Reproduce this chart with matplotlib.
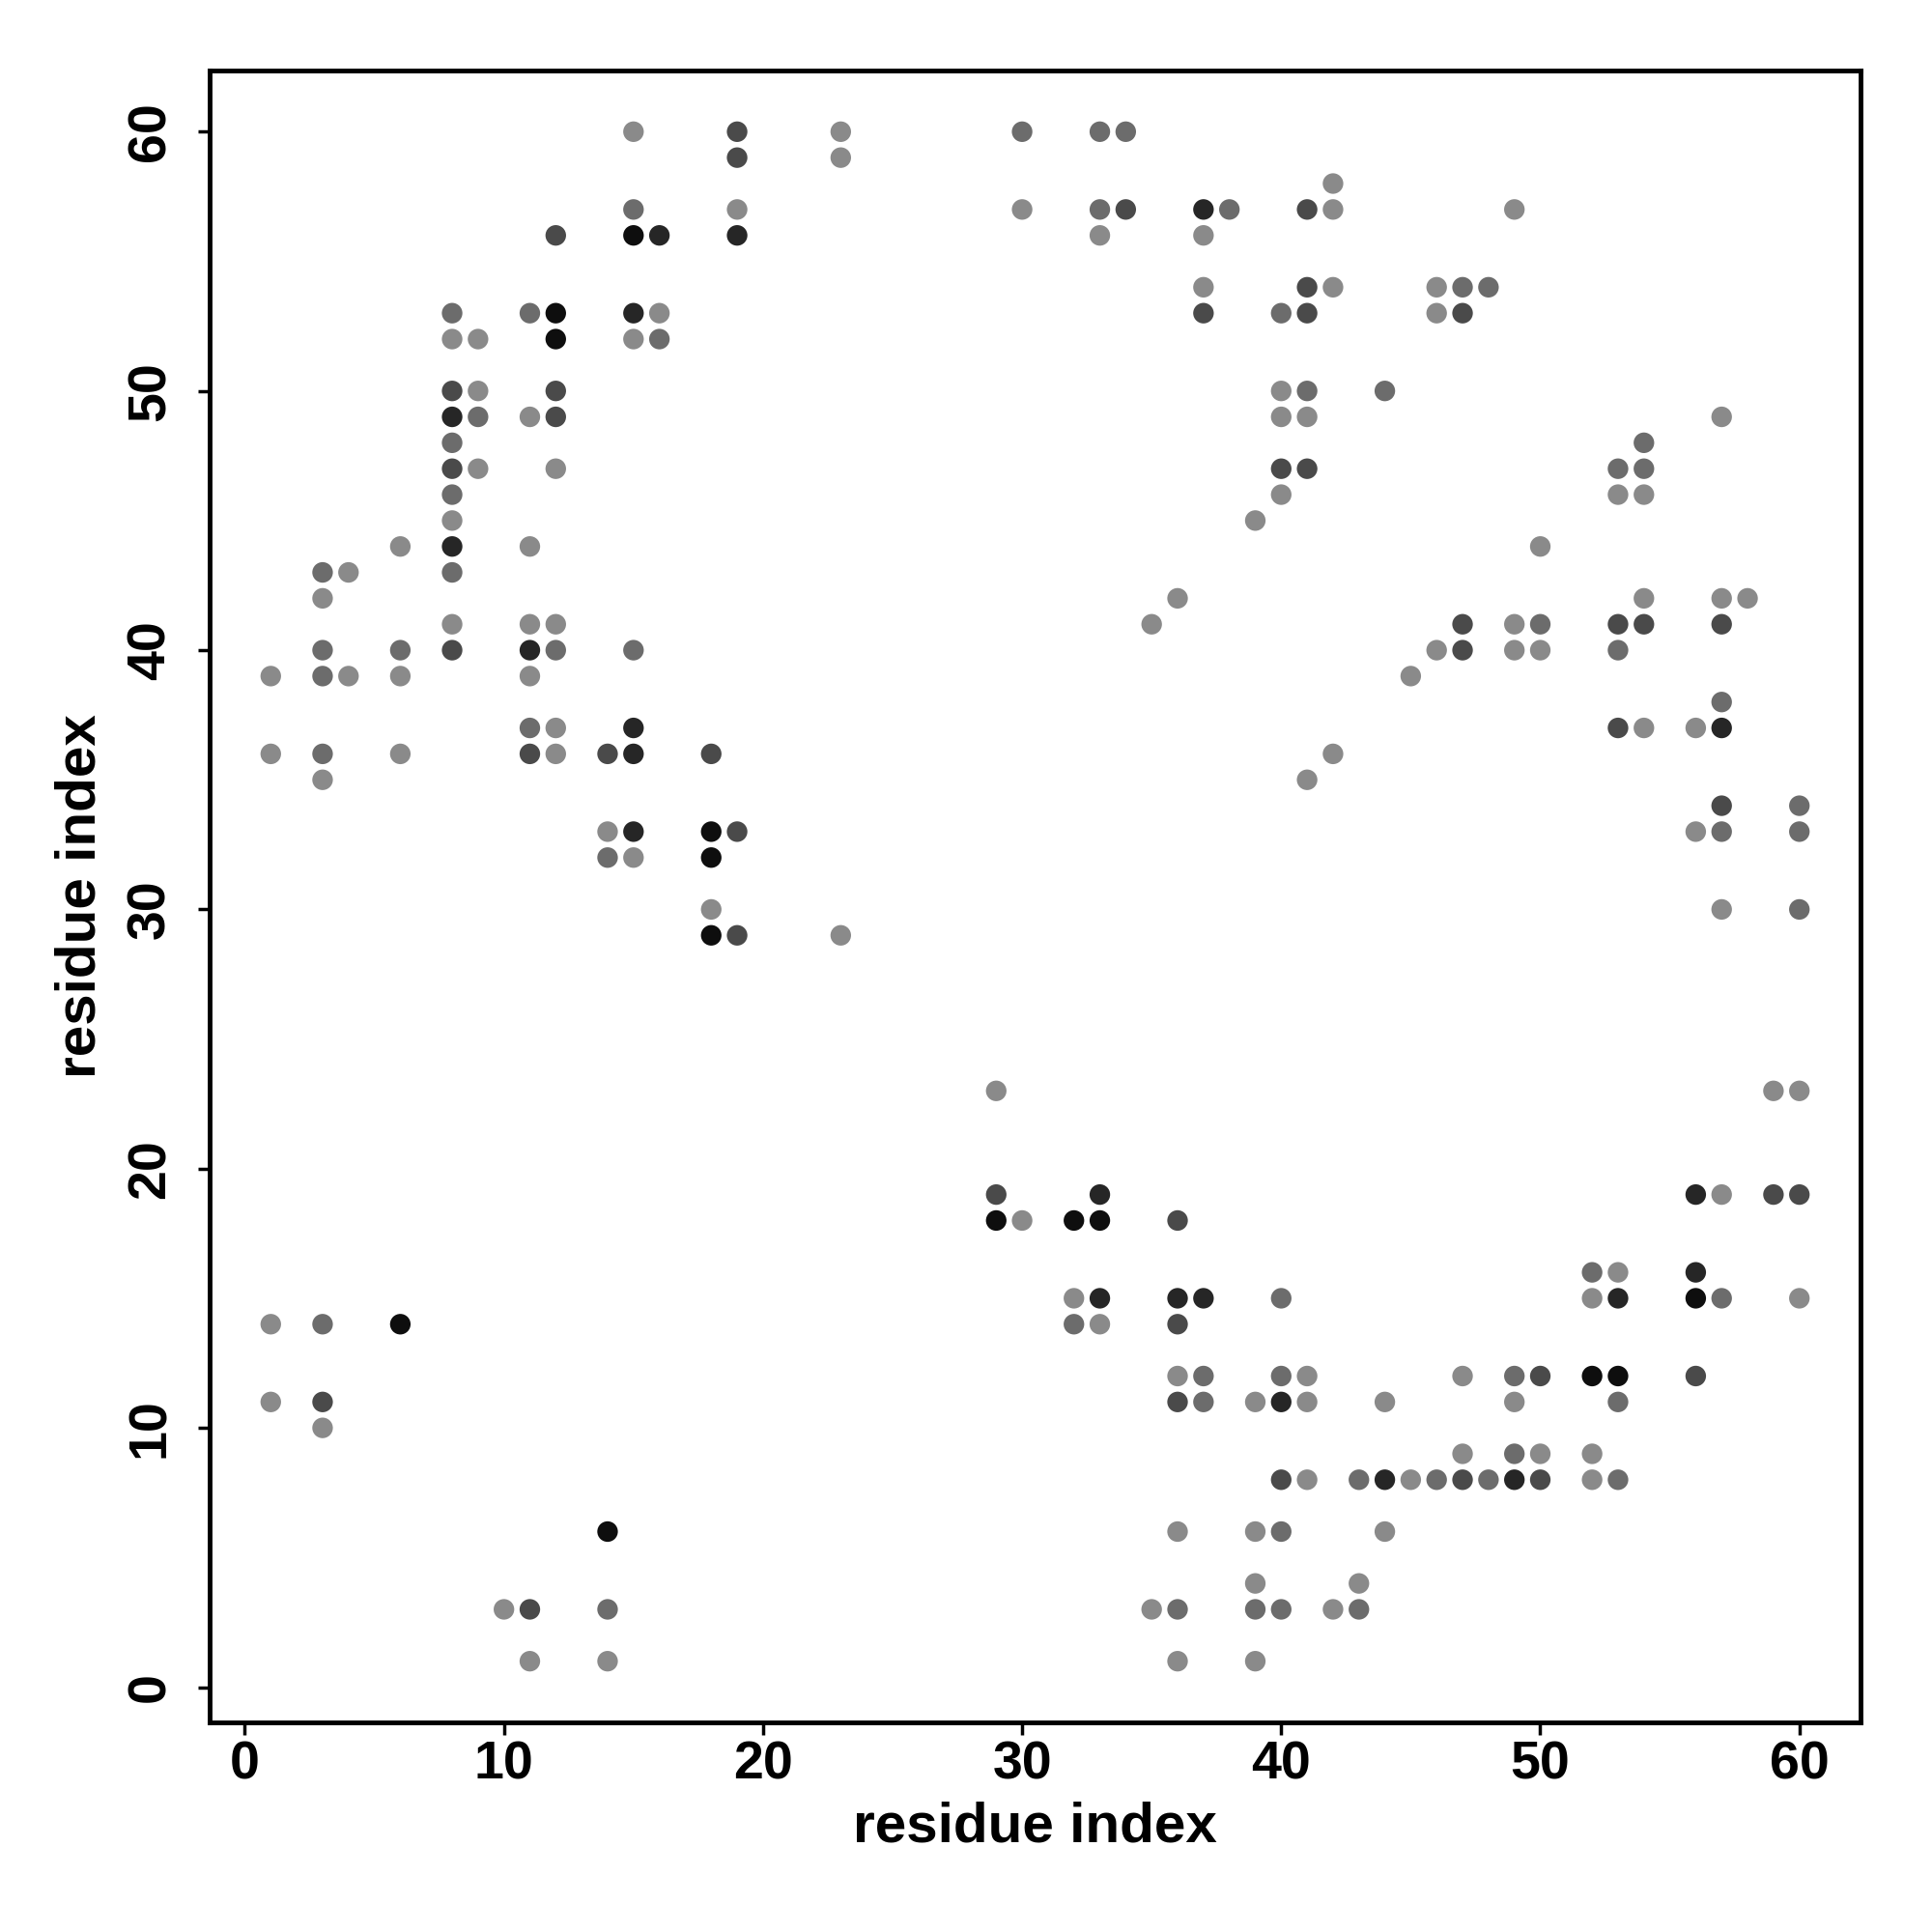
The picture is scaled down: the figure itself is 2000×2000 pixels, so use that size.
import numpy as np
import matplotlib
matplotlib.use('Agg')
import matplotlib.pyplot as plt

plt.rcParams['font.family'] = ['Liberation Sans', 'DejaVu Sans']
plt.rcParams['font.weight'] = 'bold'

# Contact list: residue i, residue j, shade level (1 light .. 5 black).
res_i = [15, 19, 23, 30, 33, 34,
         19, 23,
         42,
         15, 19, 30, 33, 34, 37, 38, 41, 42, 49,
         12, 15, 16, 19, 33, 37,
         37, 41, 42, 46, 47, 48,
         8, 11, 12, 15, 16, 37, 40, 41, 46, 47,
         8, 9, 12, 15, 16,
         8, 9, 12, 40, 41, 44,
         8, 9, 11, 12, 40, 41, 57,
         8, 54,
         8, 9, 12, 40, 41, 53, 54,
         8, 40, 53, 54,
         8, 39,
         6, 8, 11, 50,
         3, 4, 8,
         3, 36, 54, 57, 58,
         8, 11, 12, 35, 47, 49, 50, 53, 54, 57,
         3, 6, 8, 11, 12, 15, 46, 47, 49, 50, 53,
         1, 3, 4, 6, 11, 45,
         57,
         11, 12, 15, 53, 54, 56, 57,
         1, 3, 6, 11, 12, 14, 15, 18, 42,
         3, 41,
         57, 60,
         14, 15, 18, 19, 56, 57, 60,
         14, 15, 18,
         18, 57, 60,
         18, 19, 23,
         29, 59, 60,
         29, 33, 56, 57, 59, 60,
         29, 30, 32, 33, 36,
         52, 53, 56,
         32, 33, 36, 37, 40, 52, 53, 56, 57, 60,
         1, 3, 6, 32, 33, 36,
         36, 37, 40, 41, 47, 49, 50, 52, 53, 56,
         1, 3, 36, 37, 39, 40, 41, 44, 49, 53,
         3,
         47, 49, 50, 52,
         40, 41, 43, 44, 45, 46, 47, 48, 49, 50, 52, 53,
         14, 36, 39, 40, 44,
         39, 43,
         10, 11, 14, 35, 36, 39, 40, 42, 43,
         11, 14, 36, 39]

res_j = [60] * 6 + [59] * 2 + [58] + [57] * 10 + [56] * 6 + [54] * 6 + [53] * 10 \
    + [52] * 5 + [50] * 6 + [49] * 7 + [48] * 2 + [47] * 7 + [46] * 4 + [45] * 2 \
    + [44] * 4 + [43] * 3 + [42] * 5 + [41] * 10 + [40] * 11 + [39] * 6 + [38] \
    + [37] * 7 + [36] * 9 + [35] * 2 + [34] * 2 + [33] * 7 + [32] * 3 + [30] * 3 \
    + [29] * 3 + [23] * 3 + [19] * 6 + [18] * 5 + [16] * 3 + [15] * 10 + [14] * 6 \
    + [12] * 10 + [11] * 10 + [10] + [9] * 4 + [8] * 12 + [6] * 5 + [4] * 2 \
    + [3] * 9 + [1] * 4

shade = [1, 3, 1, 2, 2, 2,
         3, 1,
         1,
         2, 1, 1, 2, 3, 4, 2, 3, 1, 1,
         3, 5, 4, 4, 1, 1,
         1, 3, 1, 1, 2, 2,
         2, 2, 5, 4, 1, 3, 2, 3, 1, 3,
         1, 1, 5, 1, 2,
         3, 1, 3, 1, 2, 2,
         4, 2, 1, 3, 1, 1, 1,
         2, 2,
         3, 1, 1, 3, 3, 2, 2,
         2, 1, 1, 1,
         1, 1,
         1, 4, 1, 1,
         2, 1, 2,
         1, 1, 1, 1, 1,
         1, 1, 1, 1, 3, 1, 2, 3, 3, 3,
         2, 2, 3, 4, 2, 2, 1, 3, 1, 1, 2,
         1, 2, 1, 1, 1, 1,
         2,
         2, 1, 4, 3, 1, 1, 4,
         1, 2, 1, 3, 1, 3, 4, 3, 1,
         1, 1,
         3, 2,
         1, 4, 5, 3, 1, 2, 2,
         2, 1, 5,
         1, 1, 2,
         5, 3, 1,
         1, 1, 1,
         3, 4, 4, 1, 3, 3,
         5, 1, 5, 5, 3,
         2, 1, 4,
         1, 4, 4, 4, 2, 1, 4, 5, 2, 1,
         1, 2, 5, 2, 1, 3,
         1, 2, 2, 1, 1, 2, 3, 5, 5, 3,
         1, 3, 3, 2, 1, 4, 1, 1, 1, 2,
         1,
         1, 2, 1, 1,
         3, 1, 2, 4, 1, 2, 3, 2, 4, 3, 1, 2,
         5, 1, 1, 2, 1,
         1, 1,
         1, 3, 2, 1, 2, 2, 2, 1, 2,
         1, 1, 1, 1]

shade_colors = {1: '#8a8a8a', 2: '#6c6c6c', 3: '#4a4a4a', 4: '#262626', 5: '#0e0e0e'}

x = np.array(res_i)
y = np.array(res_j)
colors = [shade_colors[s] for s in shade]

fig = plt.figure(figsize=(20, 20), dpi=100)
ax = fig.add_axes([0.1085, 0.1085, 0.8545, 0.855])

ax.scatter(x, y, s=235, c=colors, edgecolors='none', zorder=3)

# R-style 4% padding around the data range
def padded(v):
    lo, hi = v.min(), v.max()
    d = (hi - lo) * 0.04
    return lo - d, hi + d

ax.set_xlim(*padded(x))
ax.set_ylim(*padded(y))

ax.set_xticks(np.arange(0, 61, 10))
ax.set_yticks(np.arange(0, 61, 10))
ax.tick_params(axis='both', direction='out', length=9, width=2.5, labelsize=40)
ax.tick_params(axis='x', pad=4)
ax.tick_params(axis='y', pad=16)
for lab in ax.get_yticklabels():
    lab.set_rotation(90)
    lab.set_va('center')
for lab in ax.get_xticklabels() + ax.get_yticklabels():
    lab.set_fontweight('bold')

for sp in ax.spines.values():
    sp.set_linewidth(3.5)

ax.set_xlabel('residue index', fontsize=42, fontweight='bold', labelpad=8)
ax.set_ylabel('residue index', fontsize=42, fontweight='bold', labelpad=14)

fig.savefig('out.png', dpi=100)
